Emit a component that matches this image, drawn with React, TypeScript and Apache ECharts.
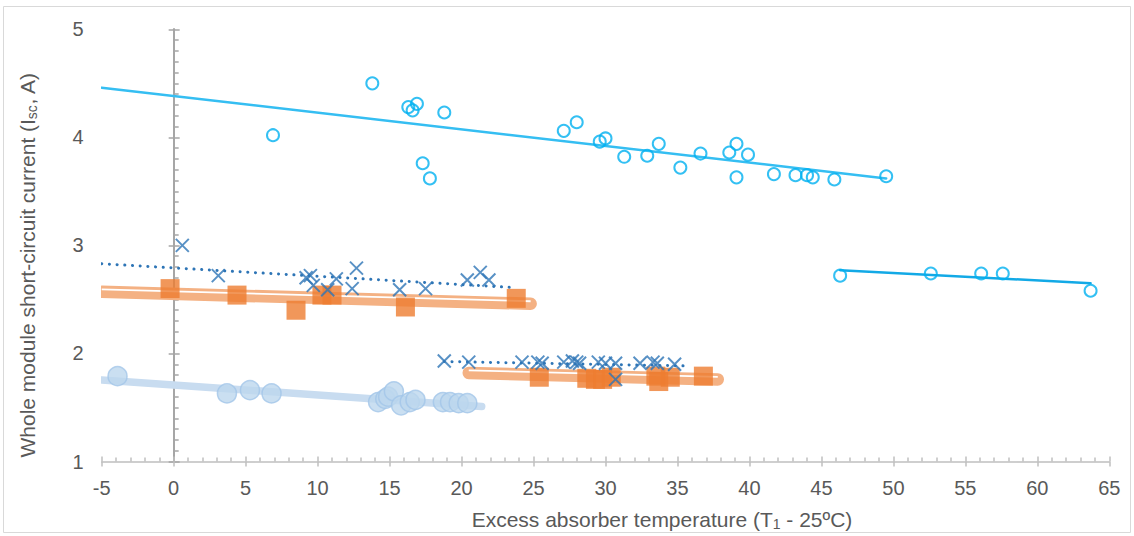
import React, { useEffect, useRef } from "react";
import * as echarts from "echarts";

type Pt = [number, number];

// Axis ranges
const xRange = { min: -5, max: 65, step: 5 };
const yRange = { min: 1, max: 5, step: 1 };

// Open cyan circles – first run and its linear fit
const cyanRunA: Pt[] = [
  [6.9, 4.02], [13.8, 4.5], [16.3, 4.28], [16.6, 4.25], [16.9, 4.31], [18.8, 4.23],
  [17.3, 3.76], [17.8, 3.62], [27.1, 4.06], [28.0, 4.14], [29.6, 3.96], [30.0, 3.99],
  [31.3, 3.82], [32.9, 3.83], [33.7, 3.94], [35.2, 3.72], [36.6, 3.85], [38.6, 3.86],
  [39.1, 3.94], [39.1, 3.63], [39.9, 3.84], [41.7, 3.66], [43.2, 3.65], [44.0, 3.65],
  [44.4, 3.63], [45.9, 3.61], [49.5, 3.64],
];
const cyanTrendA: Pt[] = [[-5, 4.46], [49.5, 3.62]];

// Open cyan circles – high-temperature run
const cyanRunB: Pt[] = [[46.3, 2.72], [52.6, 2.74], [56.1, 2.74], [57.6, 2.74], [63.7, 2.58]];
const cyanTrendB: Pt[] = [[46.3, 2.77], [63.7, 2.65]];

// Blue crosses – upper group
const crossRunA: Pt[] = [
  [0.6, 3.0], [3.1, 2.72], [9.2, 2.7], [9.5, 2.72], [9.7, 2.63], [10.7, 2.59], [11.3, 2.69],
  [12.4, 2.6], [12.7, 2.79], [15.7, 2.59], [17.5, 2.6], [20.4, 2.68], [21.3, 2.75], [21.9, 2.68],
];
const crossTrendA: Pt[] = [[-5, 2.83], [23.6, 2.61]];

// Blue crosses – lower group
const crossRunB: Pt[] = [
  [18.8, 1.93], [20.5, 1.92], [24.2, 1.92], [25.3, 1.92], [25.6, 1.91], [27.1, 1.92],
  [27.7, 1.93], [28.0, 1.92], [28.2, 1.91], [29.5, 1.92], [30.0, 1.91], [30.7, 1.91],
  [30.7, 1.76], [32.4, 1.91], [33.3, 1.92], [33.6, 1.91], [34.8, 1.9],
];
const crossTrendB: Pt[] = [[18.8, 1.925], [35.4, 1.885]];

// Orange squares – upper group
const squareRunA: Pt[] = [
  [-0.25, 2.6], [4.4, 2.54], [8.5, 2.4], [10.3, 2.54], [11.0, 2.54], [16.1, 2.43], [23.8, 2.51],
];
const squareTrendA: Pt[] = [[-5, 2.57], [24.8, 2.46]];

// Orange squares – lower group
const squareRunB: Pt[] = [
  [25.4, 1.78], [28.7, 1.77], [29.3, 1.76], [29.8, 1.76], [30.4, 1.78], [33.5, 1.79],
  [33.7, 1.74], [34.5, 1.78], [36.8, 1.79],
];
const squareTrendB: Pt[] = [[20.5, 1.82], [37.8, 1.76]];

// Pale blue discs
const discRun: Pt[] = [
  [-3.9, 1.79], [3.7, 1.63], [5.3, 1.66], [6.8, 1.63], [14.2, 1.55], [14.7, 1.58],
  [14.9, 1.6], [15.3, 1.65], [15.8, 1.52], [16.4, 1.55], [16.8, 1.57], [18.7, 1.55],
  [19.2, 1.55], [19.8, 1.54], [20.4, 1.54],
];
const discTrend: Pt[] = [[-5, 1.755], [21.4, 1.51]];

const FONT = "'Liberation Sans', Arial, sans-serif";
const TEXT = "#595959";
const CROSS = "path://M0,0L10,10M10,0L0,10";

// Fit lines are drawn as custom items so they are clipped exactly at the plot edge
function trendLine(
  data: Pt[],
  color: string,
  width: number,
  dash: number[] | null = null,
  z = 1,
  stripe = false
) {
  return {
    type: "custom",
    silent: true,
    clip: true,
    z,
    data: [[data[0][0], data[0][1], data[1][0], data[1][1]]],
    encode: { x: [0, 2], y: [1, 3] },
    renderItem: (_p: any, api: any) => {
      const a = api.coord([api.value(0), api.value(1)]);
      const b = api.coord([api.value(2), api.value(3)]);
      const children: any[] = [
        {
          type: "line",
          shape: { x1: a[0], y1: a[1], x2: b[0], y2: b[1] },
          style: { stroke: color, lineWidth: width, lineCap: "round", lineDash: dash || undefined },
        },
      ];
      if (stripe) {
        // thin white stripe that splits the wide band into a double line
        children.push({
          type: "line",
          shape: { x1: a[0], y1: a[1] - 2.5, x2: b[0], y2: b[1] - 2.5 },
          style: { stroke: "#ffffff", lineWidth: 1.8 },
        });
      }
      return { type: "group", children };
    },
  };
}

function scatter(data: Pt[], symbol: string, size: number, itemStyle: any, z: number) {
  return { type: "scatter", data, symbol, symbolSize: size, itemStyle, z, silent: true };
}

const xBase = { type: "value", min: xRange.min, max: xRange.max, interval: xRange.step, position: "bottom", splitLine: { show: false } };
const yBase = { type: "value", min: yRange.min, max: yRange.max, interval: yRange.step, position: "left", splitLine: { show: false } };

const titleRich = { sub: { fontSize: 14, fontFamily: FONT, fill: TEXT, padding: [10, 0, 0, 0] } };

const option: any = {
  animation: false,
  grid: { left: 101.7, right: 24.7, top: 29.3, bottom: 74.5 },
  xAxis: [
    {
      ...xBase,
      axisLine: { show: true, onZero: false, lineStyle: { color: "#BFBFBF", width: 1.5 } },
      axisTick: { show: true, inside: true, length: 5, lineStyle: { color: "#BFBFBF", width: 1.5 } },
      minorTick: { show: true, splitNumber: 5, length: 4, lineStyle: { color: "#BFBFBF", width: 1.5 } },
      axisLabel: { margin: 16, fontSize: 20, color: TEXT, fontFamily: FONT },
    },
    {
      ...xBase,
      axisLine: { show: false, onZero: false },
      axisTick: { show: true, inside: false, length: 5, lineStyle: { color: "#BFBFBF", width: 1.5 } },
      axisLabel: { show: false },
    },
  ],
  yAxis: [
    {
      ...yBase,
      axisLine: { show: true, onZero: true, onZeroAxisIndex: 0, lineStyle: { color: "#A6A6A6", width: 2 } },
      axisTick: { show: true, inside: true, length: 6, lineStyle: { color: "#A6A6A6", width: 1.5 } },
      minorTick: { show: true, splitNumber: 10, length: 5, lineStyle: { color: "#A6A6A6", width: 1.5 } },
      axisLabel: { show: false },
    },
    {
      ...yBase,
      axisLine: { show: true, onZero: true, onZeroAxisIndex: 0, lineStyle: { color: "#A6A6A6", width: 2 } },
      axisTick: { show: true, inside: false, length: 5, lineStyle: { color: "#A6A6A6", width: 1.5 } },
      axisLabel: { show: false },
    },
    {
      ...yBase,
      axisLine: { show: false, onZero: false },
      axisTick: { show: false },
      axisLabel: { margin: 18, fontSize: 20, color: TEXT, fontFamily: FONT },
    },
  ],
  graphic: [
    {
      type: "rect",
      silent: true,
      z: -10,
      shape: { x: 3.5, y: 6.5, width: 1127, height: 526 },
      style: { fill: "none", stroke: "#D9D9D9", lineWidth: 1 },
    },
    {
      type: "text",
      x: 662,
      y: 519,
      silent: true,
      style: {
        text: "Excess absorber temperature (T{sub|1} - 25ºC)",
        fontSize: 21,
        fontFamily: FONT,
        fill: TEXT,
        align: "center",
        textAlign: "center",
        verticalAlign: "middle",
        textVerticalAlign: "middle",
        rich: titleRich,
      },
    },
    {
      type: "text",
      x: 27,
      y: 265,
      rotation: Math.PI / 2,
      silent: true,
      style: {
        text: "Whole module short-circuit current (I{sub|sc}, A)",
        fontSize: 21,
        fontFamily: FONT,
        fill: TEXT,
        align: "center",
        textAlign: "center",
        verticalAlign: "middle",
        textVerticalAlign: "middle",
        rich: titleRich,
      },
    },
  ],
  series: [
    trendLine(discTrend, "#C8DCF0", 7.5),
    trendLine(squareTrendA, "#F4B183", 12.5, null, 2, true),
    trendLine(squareTrendB, "#F4B183", 12.5, null, 2, true),
    trendLine(crossTrendA, "#2E75B6", 3, [0.1, 7.6], 3),
    trendLine(crossTrendB, "#2E75B6", 3, [0.1, 7.6], 3),
    trendLine(cyanTrendA, "#35BEF2", 2.5, null, 3),
    trendLine(cyanTrendB, "#12A9E6", 2.5, null, 3),
    scatter(discRun, "circle", 19, { color: "#BDD7EE", borderColor: "#A3C6E8", borderWidth: 1.5 }, 4),
    scatter(squareRunA, "rect", 19, { color: "#ED7D31" }, 5),
    scatter(squareRunB, "rect", 19, { color: "#ED7D31" }, 5),
    scatter(crossRunA, CROSS, 13, { color: "rgba(0,0,0,0)", borderColor: "#2E75B6", borderWidth: 2 }, 6),
    scatter(crossRunB, CROSS, 13, { color: "rgba(0,0,0,0)", borderColor: "#2E75B6", borderWidth: 2 }, 6),
    scatter(cyanRunA, "circle", 12, { color: "rgba(0,0,0,0)", borderColor: "#00B0F0", borderWidth: 2 }, 7),
    scatter(cyanRunB, "circle", 12, { color: "rgba(0,0,0,0)", borderColor: "#00B0F0", borderWidth: 2 }, 7),
  ],
};

export default function App() {
  const ref = useRef<HTMLDivElement>(null);
  useEffect(() => {
    document.body.style.margin = "0";
    const chart = echarts.init(ref.current!, null, { renderer: "svg" });
    chart.setOption(option);
    return () => chart.dispose();
  }, []);
  return <div ref={ref} style={{ width: 1134, height: 536 }} />;
}
